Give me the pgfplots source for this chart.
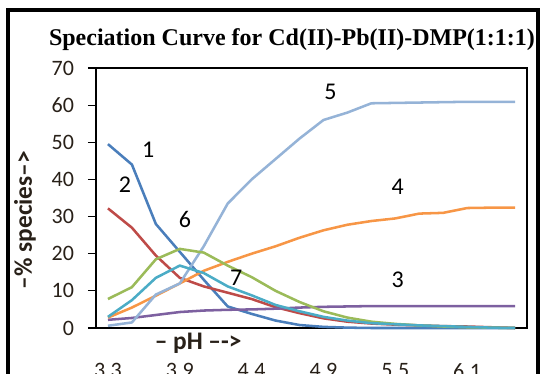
\documentclass[border=0pt]{standalone}
\usepackage{pgfplots}
\pgfplotsset{compat=1.18}
\usepackage{pgfplotstable}
\usepackage{fontspec}
\setmainfont{Carlito}
\newfontfamily\titlefont{Liberation Serif}
\definecolor{txt}{RGB}{40,32,24}
\definecolor{c1}{HTML}{4A7EBB}
\definecolor{c2}{HTML}{BE4B48}
\definecolor{c3}{HTML}{7D60A0}
\definecolor{c4}{HTML}{F79646}
\definecolor{c5}{HTML}{95B3D7}
\definecolor{c6}{HTML}{9BBB59}
\definecolor{c7}{HTML}{4BACC6}
\pgfplotstableread{
i c1 c2 c3 c4 c5 c6 c7
0 49.5 32.2 2.2 2.8 0.6 7.8 3.0
1 44.0 27.0 2.7 5.5 1.5 11.0 7.5
2 28.0 19.5 3.5 8.7 9.0 18.5 13.5
3 20.5 13.5 4.3 12.0 12.0 21.3 16.8
4 13.0 11.2 4.7 15.4 22.0 20.3 14.8
5 5.8 9.5 4.9 17.8 33.5 16.8 11.2
6 3.8 7.8 5.0 20.0 40.0 13.7 8.8
7 2.0 5.6 5.2 22.0 45.5 10.0 6.2
8 0.8 4.0 5.5 24.3 51.0 7.0 4.5
9 0.3 2.6 5.7 26.3 56.0 4.5 3.0
10 0.1 1.7 5.8 27.8 58.0 2.8 2.0
11 0.0 1.2 5.9 28.8 60.5 1.7 1.3
12 0.0 0.9 5.9 29.5 60.6 1.1 1.0
13 0.0 0.7 5.9 30.8 60.7 0.7 0.7
14 0.0 0.5 5.9 31.0 60.8 0.4 0.5
15 0.0 0.4 5.9 32.3 60.9 0.2 0.3
16 0.0 0.2 5.9 32.4 60.9 0.1 0.1
17 0.0 0.0 5.9 32.4 60.9 0.0 0.0
}\data
\begin{document}
\begin{tikzpicture}
\useasboundingbox (0,0) rectangle (407.25pt,280.5pt);
\draw[black, line width=2.4pt] (6pt,273pt) rectangle (403.5pt,-40pt);
\node[font=\titlefont\bfseries\fontsize{18}{20}\selectfont, text=black] at (219pt,251pt) {Speciation Curve for Cd(II)-Pb(II)-DMP(1:1:1)};
\node[font=\bfseries\fontsize{19}{21}\selectfont, text=txt, rotate=90] at (18.75pt,115.5pt) {–\% species–>};
\begin{axis}[
  at={(72pt,34.5pt)}, anchor=south west,
  scale only axis, width=323.25pt, height=195pt,
  xmin=-0.5, xmax=17.5, ymin=0, ymax=70,
  xtick={0,3,6,9,12,15},
  xticklabels={3.3,3.9,4.4,4.9,5.5,6.1},
  ytick={0,10,...,70},
  axis line style={line width=1.6pt, black},
  tick style={black, line width=0.8pt},
  x tick style={draw=none},
  ytick pos=left, tick align=outside, major tick length=6pt,
  /pgf/number format/assume math mode=true,
  tick label style={font=\fontsize{16.5}{18}\selectfont, text=txt},
  yticklabel style={xshift=-7pt},
  xticklabel style={anchor=center, yshift=-26pt},
  xlabel={\textbf{– pH –->}},
  xlabel style={at={(axis description cs:0.237,0)}, anchor=center, yshift=-11.25pt, font=\fontsize{19}{21}\selectfont, text=txt},
  every axis plot/.append style={line width=1.9pt, line join=round, mark=none},
  clip=false,
]
\addplot[c1] table[x=i,y=c1]{\data};
\addplot[c2] table[x=i,y=c2]{\data};
\addplot[c3] table[x=i,y=c3]{\data};
\addplot[c4] table[x=i,y=c4]{\data};
\addplot[c5] table[x=i,y=c5]{\data};
\addplot[c6] table[x=i,y=c6]{\data};
\addplot[c7] table[x=i,y=c7]{\data};
\begin{scope}[every node/.style={font=\fontsize{18}{20}\selectfont, text=black}]
\node at (axis cs:1.68,48.0) {1};
\node at (axis cs:0.71,38.6) {2};
\node at (axis cs:12.1,13.0) {3};
\node at (axis cs:12.1,38.1) {4};
\node at (axis cs:9.29,63.7) {5};
\node at (axis cs:3.22,29.2) {6};
\node at (axis cs:5.36,13.5) {7};
\end{scope}
\end{axis}
\end{tikzpicture}
\end{document}
